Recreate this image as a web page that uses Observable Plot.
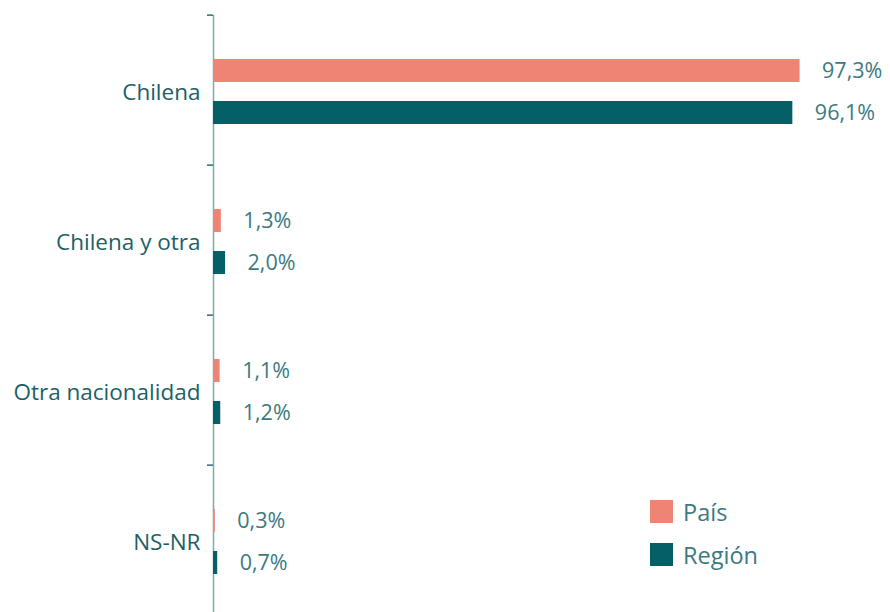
<!DOCTYPE html>
<html>
<head>
<meta charset="utf-8">
<script src="https://cdn.jsdelivr.net/npm/d3@7"></script>
<script src="https://cdn.jsdelivr.net/npm/@observablehq/plot@0.6"></script>
<style>
  html, body { margin: 0; padding: 0; background: #fff; }
  #wrap { position: relative; width: 890px; height: 612px; font-family: "Open Sans", sans-serif; overflow: hidden; }
  .legend { position: absolute; left: 650px; top: 500px; }
  .legend .row { display: flex; align-items: center; height: 23px; margin-bottom: 20px; font-size: 23.5px; color: #3C7A80; }
  .legend .sw { width: 23px; height: 23px; margin-right: 10px; }
</style>
</head>
<body>
<div id="wrap"></div>
<script>
const categories = ["Chilena", "Chilena y otra", "Otra nacionalidad", "NS-NR"];
const series = ["País", "Región"];
const paisValues = [97.3, 1.3, 1.1, 0.3];
const regionValues = [96.1, 2.0, 1.2, 0.7];
const colors = ["#F08474", "#055F66"];

const data = [];
categories.forEach((c, i) => {
  data.push({category: c, series: "País", value: paisValues[i]});
  data.push({category: c, series: "Región", value: regionValues[i]});
});

const W = 890, H = 612, mTop = 13, mBottom = -4, mLeft = 213;
const step = (H - mTop - mBottom) / categories.length;
const fmt = v => v.toFixed(1).replace(".", ",") + "%";

const chart = Plot.plot({
  width: W,
  height: H,
  marginTop: mTop,
  marginBottom: mBottom,
  marginLeft: mLeft,
  marginRight: 0,
  style: {fontFamily: "'Open Sans', sans-serif", background: "#fff", overflow: "hidden"},
  x: {domain: [0, 112.3], axis: null},
  y: {domain: series, paddingInner: 0.45, paddingOuter: 1.0, align: 0.52, axis: null},
  fy: {domain: categories, padding: 0, label: null},
  color: {domain: series, range: colors},
  marks: [
    Plot.ruleX([0], {stroke: "#7FA9AD", strokeWidth: 1.5}),
    Plot.axisFy({anchor: "left", tickSize: 6, tickFormat: () => "", dy: -step / 2, stroke: "#2F6E74", strokeWidth: 1.5}),
    Plot.axisFy({anchor: "left", tickSize: 0, tickPadding: 13, dy: 2, fontSize: 22.5, fill: "#1D5F66", label: null}),
    Plot.barX(data, {x: "value", y: "series", fy: "category", fill: "series"}),
    Plot.text(data, {x: "value", y: "series", fy: "category", text: d => fmt(d.value), textAnchor: "start", dx: 22, fontSize: 21.5, fill: "#3C7A80"})
  ]
});

const wrap = document.getElementById("wrap");
wrap.appendChild(chart);

const legend = document.createElement("div");
legend.className = "legend";
series.forEach((s, i) => {
  const row = document.createElement("div");
  row.className = "row";
  const sw = document.createElement("div");
  sw.className = "sw";
  sw.style.background = colors[i];
  const t = document.createElement("span");
  t.textContent = s;
  row.appendChild(sw);
  row.appendChild(t);
  legend.appendChild(row);
});
wrap.appendChild(legend);
</script>
</body>
</html>
